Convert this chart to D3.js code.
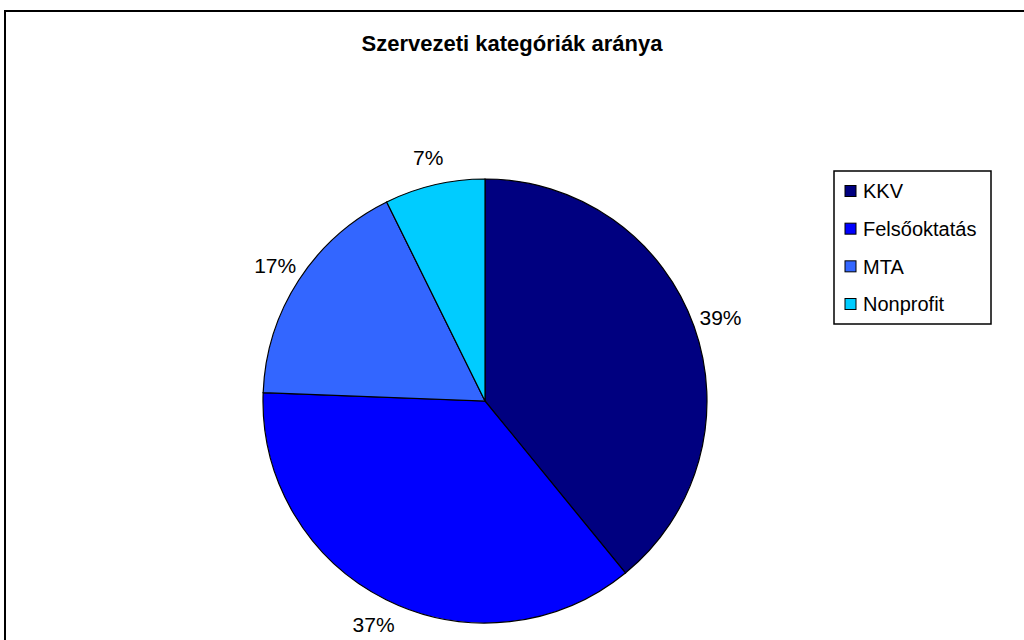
<!DOCTYPE html>
<html>
<head>
<meta charset="utf-8">
<script src="https://cdn.jsdelivr.net/npm/d3@7"></script>
<style>
  body { margin: 0; background: #fff; }
  text { font-family: "Liberation Sans", Arial, sans-serif; fill: #000; }
</style>
</head>
<body>
<script>
var width = 1024;
var height = 640;

// data (share of organisations, %)
var categories = ["KKV", "Felsőoktatás", "MTA", "Nonprofit"];
var shares = [39.1, 36.5, 17.1, 7.3];
var labels = ["39%", "37%", "17%", "7%"];
var colors = ["#000080", "#0000FF", "#3366FF", "#00CCFF"];

var cx = 485, cy = 401, radius = 222;
var labelRadius = 250;

var svg = d3.select("body").append("svg")
  .attr("width", width)
  .attr("height", height);

// chart frame (runs off the right and bottom of the picture)
svg.append("rect")
  .attr("x", 5)
  .attr("y", 11)
  .attr("width", width + 20)
  .attr("height", height + 20)
  .attr("fill", "#fff")
  .attr("stroke", "#000")
  .attr("stroke-width", 2);

svg.append("text")
  .attr("x", 512)
  .attr("y", 51)
  .attr("text-anchor", "middle")
  .style("font-size", "22px")
  .style("font-weight", "bold")
  .text("Szervezeti kategóriák aránya");

var data = categories.map(function(c, i) {
  return {name: c, value: shares[i], label: labels[i], color: colors[i]};
});

var pie = d3.pie()
  .sort(null)
  .value(function(d) { return d.value; });

var arc = d3.arc()
  .innerRadius(0)
  .outerRadius(radius);

var labelArc = d3.arc()
  .innerRadius(labelRadius)
  .outerRadius(labelRadius);

var g = svg.append("g")
  .attr("transform", "translate(" + cx + "," + cy + ")");

g.selectAll("path")
  .data(pie(data))
  .enter()
  .append("path")
  .attr("d", arc)
  .attr("fill", function(d) { return d.data.color; })
  .attr("stroke", "#000")
  .attr("stroke-width", 1.2);

g.selectAll("text.pct")
  .data(pie(data))
  .enter()
  .append("text")
  .attr("class", "pct")
  .attr("transform", function(d) { return "translate(" + labelArc.centroid(d) + ")"; })
  .attr("text-anchor", "middle")
  .attr("dy", "0.36em")
  .style("font-size", "21px")
  .text(function(d) { return d.data.label; });

// legend
var legend = svg.append("g");

legend.append("rect")
  .attr("x", 834)
  .attr("y", 171)
  .attr("width", 157)
  .attr("height", 153)
  .attr("fill", "#fff")
  .attr("stroke", "#000")
  .attr("stroke-width", 1.5);

var rowY = d3.scalePoint()
  .domain(categories)
  .range([191, 304]);

var items = legend.selectAll("g.item")
  .data(data)
  .enter()
  .append("g")
  .attr("class", "item")
  .attr("transform", function(d) { return "translate(0," + rowY(d.name) + ")"; });

items.append("rect")
  .attr("x", 845)
  .attr("y", -5.5)
  .attr("width", 11)
  .attr("height", 11)
  .attr("fill", function(d) { return d.color; })
  .attr("stroke", "#000")
  .attr("stroke-width", 1);

items.append("text")
  .attr("x", 863)
  .attr("dy", "0.36em")
  .style("font-size", "20px")
  .text(function(d) { return d.name; });
</script>
</body>
</html>
